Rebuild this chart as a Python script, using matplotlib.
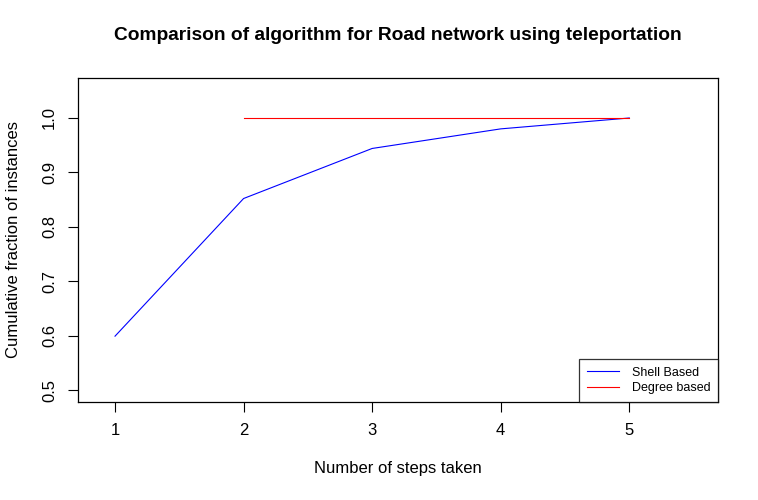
import matplotlib
matplotlib.use('Agg')
import matplotlib.pyplot as plt

plt.rcParams['font.family'] = ['Liberation Sans', 'DejaVu Sans']

# Data
steps = [1, 2, 3, 4, 5]
shell_based = [0.599, 0.852, 0.944, 0.980, 1.0]
degree_steps = [2, 3, 4, 5]
degree_based = [1.0, 1.0, 1.0, 1.0]
x_ticks = [1, 2, 3, 4, 5]
y_ticks = [0.5, 0.6, 0.7, 0.8, 0.9, 1.0]

fig = plt.figure(figsize=(7.58, 5), dpi=100)
ax = fig.add_axes([78 / 758, 98 / 500, 640 / 758, 324 / 500])

ax.plot(steps, shell_based, color='blue', lw=0.8, label='Shell Based')
ax.plot(degree_steps, degree_based, color='red', lw=0.8, label='Degree based')

ax.set_xlim(0.712, 5.69)
ax.set_ylim(0.478, 1.0735)
ax.set_xticks(x_ticks)
ax.set_yticks(y_ticks)
ax.set_yticklabels([f'{v:.1f}' for v in y_ticks], rotation=90, va='center')
ax.tick_params(direction='out', length=7, labelsize=12, pad=8)
for s in ax.spines.values():
    s.set_linewidth(0.9)

ax.set_title('Comparison of algorithm for Road network using teleportation',
             fontsize=13.8, fontweight='bold', pad=27)
ax.set_xlabel('Number of steps taken', fontsize=12, labelpad=17)
ax.set_ylabel('Cumulative fraction of instances', fontsize=12, labelpad=15)

leg = ax.legend(loc='lower right', fontsize=9, frameon=True, fancybox=False,
                borderaxespad=0, handlelength=2.6, borderpad=0.6,
                labelspacing=0.3, handletextpad=1.0)
leg.get_frame().set_edgecolor('black')
leg.get_frame().set_linewidth(0.9)

fig.savefig('out.png', dpi=100)
